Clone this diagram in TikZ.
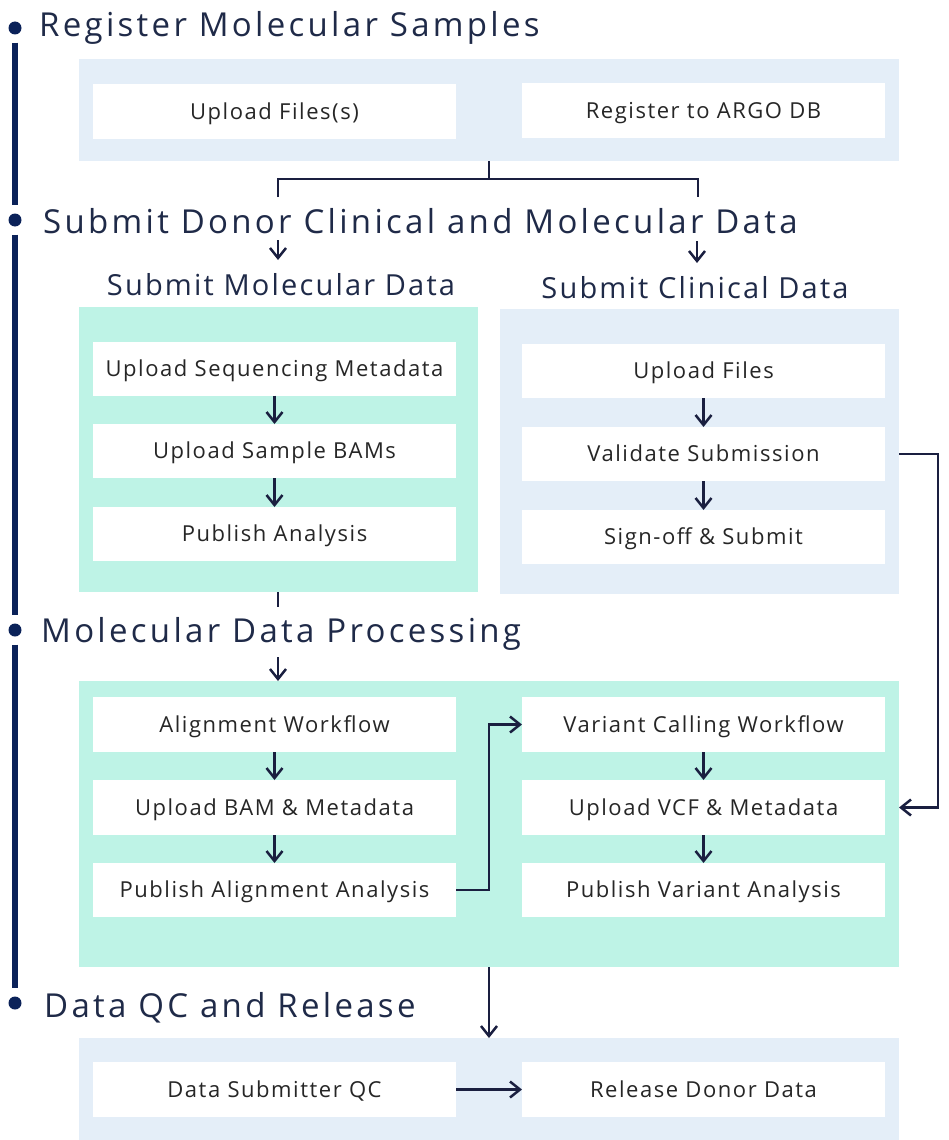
\documentclass[tikz,border=0pt]{standalone}
\usepackage{fontspec}
\setmainfont{Open Sans}
\newfontfamily\myheadfam[LetterSpace=10]{Open Sans}
\newfontfamily\mysubfam[LetterSpace=7.5]{Open Sans}
\newfontfamily\myboxfam[LetterSpace=7]{Open Sans}
\usetikzlibrary{arrows.meta}
\definecolor{lightblue}{HTML}{E4EEF8}
\definecolor{mint}{HTML}{BEF3E6}
\definecolor{navy}{HTML}{0B2259}
\definecolor{connc}{HTML}{1A1F40}
\definecolor{headc}{HTML}{1F2A48}
\definecolor{boxtext}{HTML}{262626}
\newcommand{\myheadfont}{\myheadfam\fontsize{33}{38}\selectfont}
\newcommand{\mysubfont}{\mysubfam\fontsize{29}{33}\selectfont}
\newcommand{\myboxfont}{\myboxfam\fontsize{22}{26}\selectfont}
\begin{document}
\begin{tikzpicture}[x=1pt,y=-1pt,
  grp/.style={inner sep=0pt, outer sep=0pt, draw=none},
  bluegrp/.style={grp, fill=lightblue},
  mintgrp/.style={grp, fill=mint},
  stepbox/.style={fill=white, inner sep=0pt, outer sep=0pt, minimum width=363pt, minimum height=55pt, text height=15.7pt, text depth=0pt, font=\myboxfont, text=boxtext},
  heading/.style={anchor=base west, inner sep=0pt, font=\myheadfont, text=headc},
  subheading/.style={anchor=base, inner sep=0pt, font=\mysubfont, text=headc},
  dot/.style={circle, fill=navy, inner sep=0pt, minimum size=13pt},
  timeline/.style={draw=navy, line width=6pt},
  conn/.style={draw=connc, line width=2.5pt},
  arr/.style={conn, -{Straight Barb[length=10pt,width=16pt]}}
]
\useasboundingbox (0,0) rectangle (949,1140);

% timeline
\node[dot] (d1) at (15,28) {};
\node[dot] (d2) at (15,220) {};
\node[dot] (d3) at (15,630) {};
\node[dot] (d4) at (15,1003) {};
\draw[timeline] ([yshift=-8pt]d1.south) -- ([yshift=8pt]d2.north);
\draw[timeline] ([yshift=-8pt]d2.south) -- ([yshift=8pt]d3.north);
\draw[timeline] ([yshift=-8pt]d3.south) -- ([yshift=8pt]d4.north);

% headings
\node[heading] (h1) at (39,37) {Register Molecular Samples};
\node[heading] (h2) at (43,233) {Submit Donor Clinical and Molecular Data};
\node[heading] (h3) at (41,642) {Molecular Data Processing};
\node[heading] (h4) at (44,1017) {Data QC and Release};
\node[subheading] (s1) at (281,295) {Submit Molecular Data};
\node[subheading] (s2) at (695,298) {Submit Clinical Data};

% groups
\node[bluegrp, minimum width=820pt, minimum height=102pt] (g1) at (489,110) {};
\node[mintgrp, minimum width=399pt, minimum height=285pt] (gmol) at (278.5,449.5) {};
\node[bluegrp, minimum width=399pt, minimum height=285pt] (gclin) at (699.5,451.5) {};
\node[mintgrp, minimum width=820pt, minimum height=286pt] (gproc) at (489,824) {};
\node[bluegrp, minimum width=820pt, minimum height=102pt] (gbot) at (489,1089) {};

% boxes
\node[stepbox] (upf) at (274.5,111.5) {Upload Files(s)};
\node[stepbox] (reg) at (703.5,110.5) {Register to ARGO DB};

\node[stepbox, minimum height=54pt] (useq) at (274.5,368.5) {Upload Sequencing Metadata};
\node[stepbox, minimum height=54pt] (ubam) at (274.5,451) {Upload Sample BAMs};
\node[stepbox, minimum height=54pt] (pub) at (274.5,534) {Publish Analysis};

\node[stepbox, minimum height=54pt] (uf) at (703.5,371) {Upload Files};
\node[stepbox, minimum height=54pt] (val) at (703.5,454) {Validate Submission};
\node[stepbox, minimum height=54pt] (sign) at (703.5,537) {Sign-off \& Submit};

\node[stepbox] (aw) at (274.5,724.5) {Alignment Workflow};
\node[stepbox] (ubm) at (274.5,807.5) {Upload BAM \& Metadata};
\node[stepbox, minimum height=54pt] (paa) at (274.5,890) {Publish Alignment Analysis};
\node[stepbox] (vcw) at (703.5,724.5) {Variant Calling Workflow};
\node[stepbox] (uvcf) at (703.5,807.5) {Upload VCF \& Metadata};
\node[stepbox, minimum height=54pt] (pva) at (703.5,890) {Publish Variant Analysis};

\node[stepbox] (qc) at (274.5,1089.5) {Data Submitter QC};
\node[stepbox] (rel) at (703.5,1089.5) {Release Donor Data};

% connectors: register -> split
\coordinate (splitL) at (278,179);
\coordinate (splitR) at (698,179);
\coordinate (stubL) at (278,197);
\coordinate (stubR) at (698,197);
\draw[conn] (g1.south) -- (g1.south |- splitL);
\draw[conn] (stubL) -- (splitL) -- (splitR) -- (stubR);
\coordinate (aL1) at (278,240);
\coordinate (aL2) at (278,260);
\coordinate (aR1) at (697,241);
\coordinate (aR2) at (697,263);
\draw[arr] (aL1) -- (aL2);
\draw[arr] (aR1) -- (aR2);

% molecular
\draw[arr] (useq) -- (ubam);
\draw[arr] (ubam) -- (pub);
% clinical
\draw[arr] (uf) -- (val);
\draw[arr] (val) -- (sign);

% mol -> processing
\coordinate (mstub) at (278,607);
\coordinate (pin) at (278,657);
\draw[conn] (gmol.south -| mstub) -- (mstub);
\draw[arr] (pin) -- (pin |- gproc.north);

% validate -> upload vcf
\coordinate (rx) at (938,454);
\draw[arr] (gclin.east |- val) -- (rx) -- (rx |- uvcf) -- (gproc.east |- uvcf);

% processing
\draw[arr] (aw) -- (ubm);
\draw[arr] (ubm) -- (paa);
\draw[arr] (vcw) -- (uvcf);
\draw[arr] (uvcf) -- (pva);
\coordinate (mx) at (489,890);
\draw[arr] (paa.east) -- (mx) -- (mx |- vcw) -- (vcw.west);

% processing -> release
\draw[arr] (gproc.south) -- (gbot.north);
\draw[arr] (qc) -- (rel);
\end{tikzpicture}
\end{document}
